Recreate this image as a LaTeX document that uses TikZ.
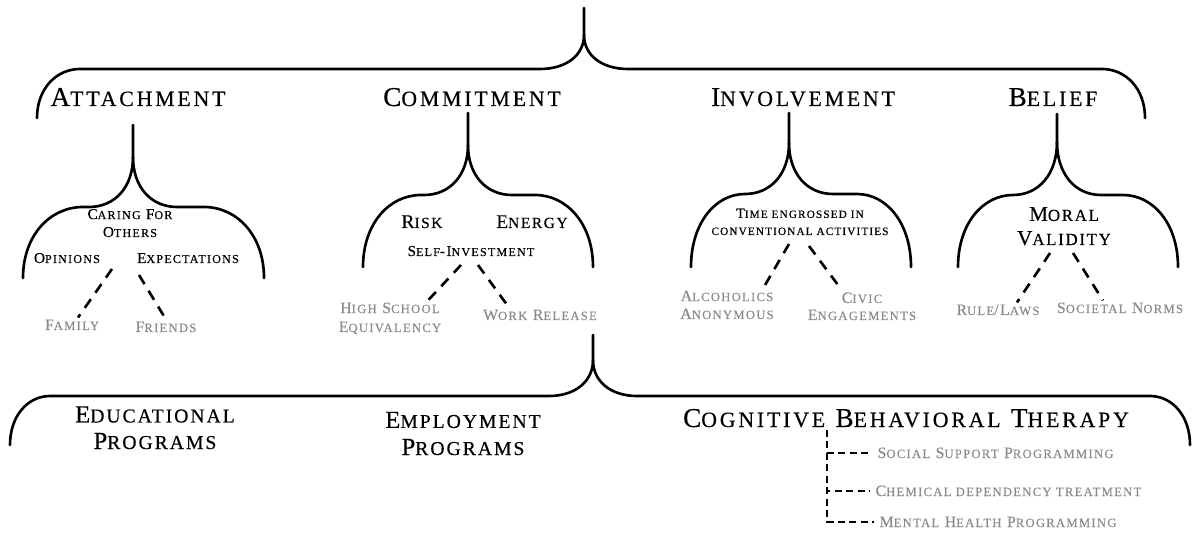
\documentclass[tikz,border=0pt]{standalone}
\usepackage{fontspec}
\usepackage{xfp}
\setmainfont{Liberation Serif}[LetterSpace=10]

\definecolor{leafgray}{HTML}{8A8A8A}

% small-cap letters: same face, four fifths of the current size
\makeatletter
\newcommand\lc[1]{{\fontsize{\fpeval{0.8*\f@size}}{\f@baselineskip}\selectfont #1}}
\makeatother

% curly brace opening downwards:
% cusp x, top y, cusp y, bar y, left end x, right end x, end y, corner width
\newcommand\fork[8]{%
  \draw[brace] (#1,#2) -- (#1,#3)
    .. controls (#1,{#3+0.6*(#4-#3)}) and ({#1-18},#4) .. ({#1-44},#4)
    -- ({#5+#8},#4)
    .. controls ({#5+0.45*#8},#4) and (#5,{#4+0.4*(#7-#4)}) .. (#5,#7);
  \draw[brace] (#1,#3)
    .. controls (#1,{#3+0.6*(#4-#3)}) and ({#1+18},#4) .. ({#1+44},#4)
    -- ({#6-#8},#4)
    .. controls ({#6-0.45*#8},#4) and (#6,{#4+0.4*(#7-#4)}) .. (#6,#7);
}

\tikzset{
  brace/.style={line width=1.5pt, line cap=round},
  link/.style={line width=1.5pt, dash pattern=on 6pt off 4.5pt},
  tick/.style={line width=1.1pt, dash pattern=on 4pt off 2.5pt},
  lbl/.style={anchor=base, inner sep=1pt, align=center},
  head/.style={lbl, font=\fontsize{15.5}{18}\selectfont\addfontfeature{LetterSpace=13,FakeBold=0.4}},
  prog/.style={lbl, font=\fontsize{14}{15.1}\selectfont\addfontfeature{FakeBold=0.4}},
  mid/.style={lbl, font=\fontsize{11}{13.7}\selectfont\addfontfeature{FakeBold=0.3}},
  sub/.style={lbl, font=\fontsize{8.6}{10.2}\selectfont\addfontfeature{FakeBold=0.3}},
  leaf/.style={lbl, text=leafgray, font=\fontsize{9}{10.2}\selectfont\addfontfeature{FakeBold=0.2}}
}

\begin{document}
\begin{tikzpicture}[x=0.02cm, y=-0.02cm]
  \useasboundingbox (0,0) rectangle (1193,533);

  % top level
  \fork{584}{8}{35}{69}{37}{1145}{118}{43}
  \node[head] (attach) at (138,106) {A\lc{TTACHMENT}};
  \node[head] (commit) at (472,106) {C\lc{OMMITMENT}};
  \node[head] (involve) at (803,106) {I\lc{NVOLVEMENT}};
  \node[head] (belief) at (1053,106) {B\lc{ELIEF}};

  % attachment
  \fork{133}{125}{157}{207}{23}{264}{278}{60}
  \node[sub] (caring) at (130,237) {C\lc{ARING} F\lc{OR}\\O\lc{THERS}};
  \node[sub] (opinions) at (67,263) {O\lc{PINIONS}};
  \node[sub] (expect) at (188,263) {E\lc{XPECTATIONS}};
  \node[leaf] (family) at (72,330) {F\lc{AMILY}};
  \node[leaf] (friends) at (166,332) {F\lc{RIENDS}};
  \coordinate (att-l) at (112,269);
  \coordinate (att-r) at (139,275);
  \draw[link] (att-l) -- (family.north -| 78,0);
  \draw[link] (att-r) -- (friends.north);

  % commitment
  \fork{468}{113}{145}{195}{363}{593}{267}{58}
  \node[mid] (risk) at (422,228) {R\lc{ISK}};
  \node[mid] (energy) at (532,228) {E\lc{NERGY}};
  \node[sub] (selfinv) at (471,256) {S\lc{ELF}-I\lc{NVESTMENT}};
  \node[leaf, font=\fontsize{9}{10.8}\selectfont\addfontfeature{FakeBold=0.2}] (school) at (390,332)
    {H\lc{IGH} S\lc{CHOOL}\\E\lc{QUIVALENCY}};
  \node[leaf] (work) at (540,320) {W\lc{ORK} R\lc{ELEASE}};
  \coordinate (com-l) at (461,265);
  \coordinate (com-r) at (478,265);
  \draw[link] (com-l) -- (school.north -| 428,0);
  \draw[link] (com-r) -- (work.north -| 509,0);

  % involvement
  \fork{789}{113}{143}{194}{691}{911}{267}{54}
  \node[sub, font=\fontsize{8}{9.7}\selectfont\addfontfeature{FakeBold=0.3}] (engross) at (800,235)
    {T\lc{IME ENGROSSED IN}\\\lc{CONVENTIONAL ACTIVITIES}};
  \node[leaf] (aa) at (727,319) {A\lc{LCOHOLICS}\\A\lc{NONYMOUS}};
  \node[leaf, font=\fontsize{9}{9.7}\selectfont\addfontfeature{FakeBold=0.2}] (civic) at (862,320)
    {C\lc{IVIC}\\E\lc{NGAGEMENTS}};
  \coordinate (inv-l) at (789,244);
  \coordinate (inv-r) at (809,246);
  \draw[link] (inv-l) -- (aa.north -| 763,0);
  \draw[link] (inv-r) -- (civic.north -| 842,0);

  % belief
  \fork{1057}{114}{142}{195}{958}{1178}{267}{55}
  \node[mid, font=\fontsize{12}{13.7}\selectfont\addfontfeature{FakeBold=0.3}] (moral) at (1064,245)
    {M\lc{ORAL}\\V\lc{ALIDITY}};
  \node[leaf] (rules) at (998,315) {R\lc{ULE}/L\lc{AWS}};
  \node[leaf] (norms) at (1120,313) {S\lc{OCIETAL} N\lc{ORMS}};
  \coordinate (bel-l) at (1050,253);
  \coordinate (bel-r) at (1073,253);
  \draw[link] (bel-l) -- (rules.north -| 1017,0);
  \draw[link] (bel-r) -- (norms.north -| 1103,0);

  % programmes
  \fork{593}{335}{360}{396}{10}{1190}{445}{40}
  \node[prog] (edu) at (155,449) {E\lc{DUCATIONAL}\\P\lc{ROGRAMS}};
  \node[prog, font=\fontsize{14}{15.4}\selectfont\addfontfeature{FakeBold=0.4}] (employ) at (463,455)
    {E\lc{MPLOYMENT}\\P\lc{ROGRAMS}};
  \node[head, anchor=base west] (cbt) at (681,427)
    {C\lc{OGNITIVE} B\lc{EHAVIORAL} T\lc{HERAPY}};
  \node[leaf, anchor=base west, inner sep=3pt] (social) at (872,458) {S\lc{OCIAL} S\lc{UPPORT} P\lc{ROGRAMMING}};
  \node[leaf, anchor=base west, inner sep=3pt] (chem) at (870,496) {C\lc{HEMICAL DEPENDENCY TREATMENT}};
  \node[leaf, anchor=base west, inner sep=3pt] (mental) at (874,527) {M\lc{ENTAL} H\lc{EALTH} P\lc{ROGRAMMING}};
  \coordinate (cbt-gap) at (827,430);
  \draw[tick] (cbt-gap) |- (social.west);
  \draw[tick] (cbt-gap) |- (chem.west);
  \draw[tick] (cbt-gap) |- (mental.west);
\end{tikzpicture}
\end{document}
